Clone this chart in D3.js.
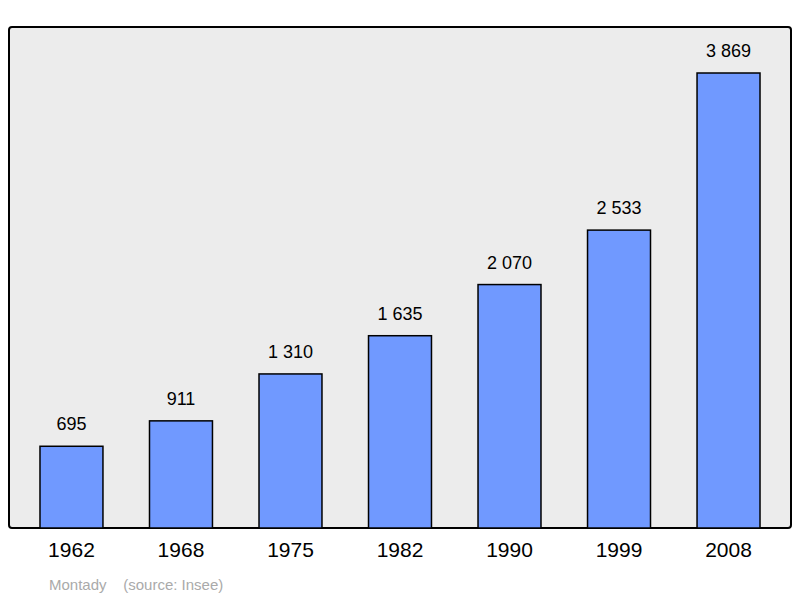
<!DOCTYPE html>
<html>
<head>
<meta charset="utf-8">
<script src="https://cdn.jsdelivr.net/npm/d3@7"></script>
<style>
  body { margin: 0; background: #fff; }
  text { font-family: "Liberation Sans", Arial, sans-serif; }
</style>
</head>
<body>
<svg width="800" height="598"></svg>
<script>
const years = ["1962", "1968", "1975", "1982", "1990", "1999", "2008"];
const population = [695, 911, 1310, 1635, 2070, 2533, 3869];

const svg = d3.select("svg");

// cadre du graphique
svg.append("rect")
  .attr("x", 9).attr("y", 27)
  .attr("width", 782).attr("height", 501)
  .attr("rx", 3)
  .attr("fill", "#ececec")
  .attr("stroke", "#000")
  .attr("stroke-width", 2);

const x = d3.scaleBand()
  .domain(years)
  .range([9, 791])
  .paddingInner(0.425)
  .paddingOuter(0.283);

const y = d3.scaleLinear()
  .domain([0, 3869])
  .range([528, 73]);

const fmt = v => d3.format(",")(v).replace(/,/g, " ");

svg.selectAll(".bar")
  .data(population)
  .join("rect")
  .attr("class", "bar")
  .attr("x", (d, i) => x(years[i]))
  .attr("y", d => y(d))
  .attr("width", x.bandwidth())
  .attr("height", d => 528 - y(d))
  .attr("fill", "#7099ff")
  .attr("stroke", "#000")
  .attr("stroke-width", 1.5);

svg.selectAll(".val")
  .data(population)
  .join("text")
  .attr("x", (d, i) => x(years[i]) + x.bandwidth() / 2)
  .attr("y", d => y(d) - 16)
  .attr("text-anchor", "middle")
  .attr("font-size", 18)
  .text(d => fmt(d));

// axe des années
svg.append("g")
  .attr("transform", "translate(0,528)")
  .call(d3.axisBottom(x).tickSize(0).tickPadding(14))
  .call(g => g.select(".domain").remove())
  .selectAll("text")
  .attr("font-size", 21)
  .attr("font-family", "Liberation Sans, Arial, sans-serif")
  .attr("fill", "#000");

svg.append("text")
  .attr("x", 49).attr("y", 590)
  .attr("font-size", 15)
  .attr("fill", "#aaa")
  .attr("xml:space", "preserve")
  .style("white-space", "pre")
  .text("Montady    (source: Insee)");
</script>
</body>
</html>
